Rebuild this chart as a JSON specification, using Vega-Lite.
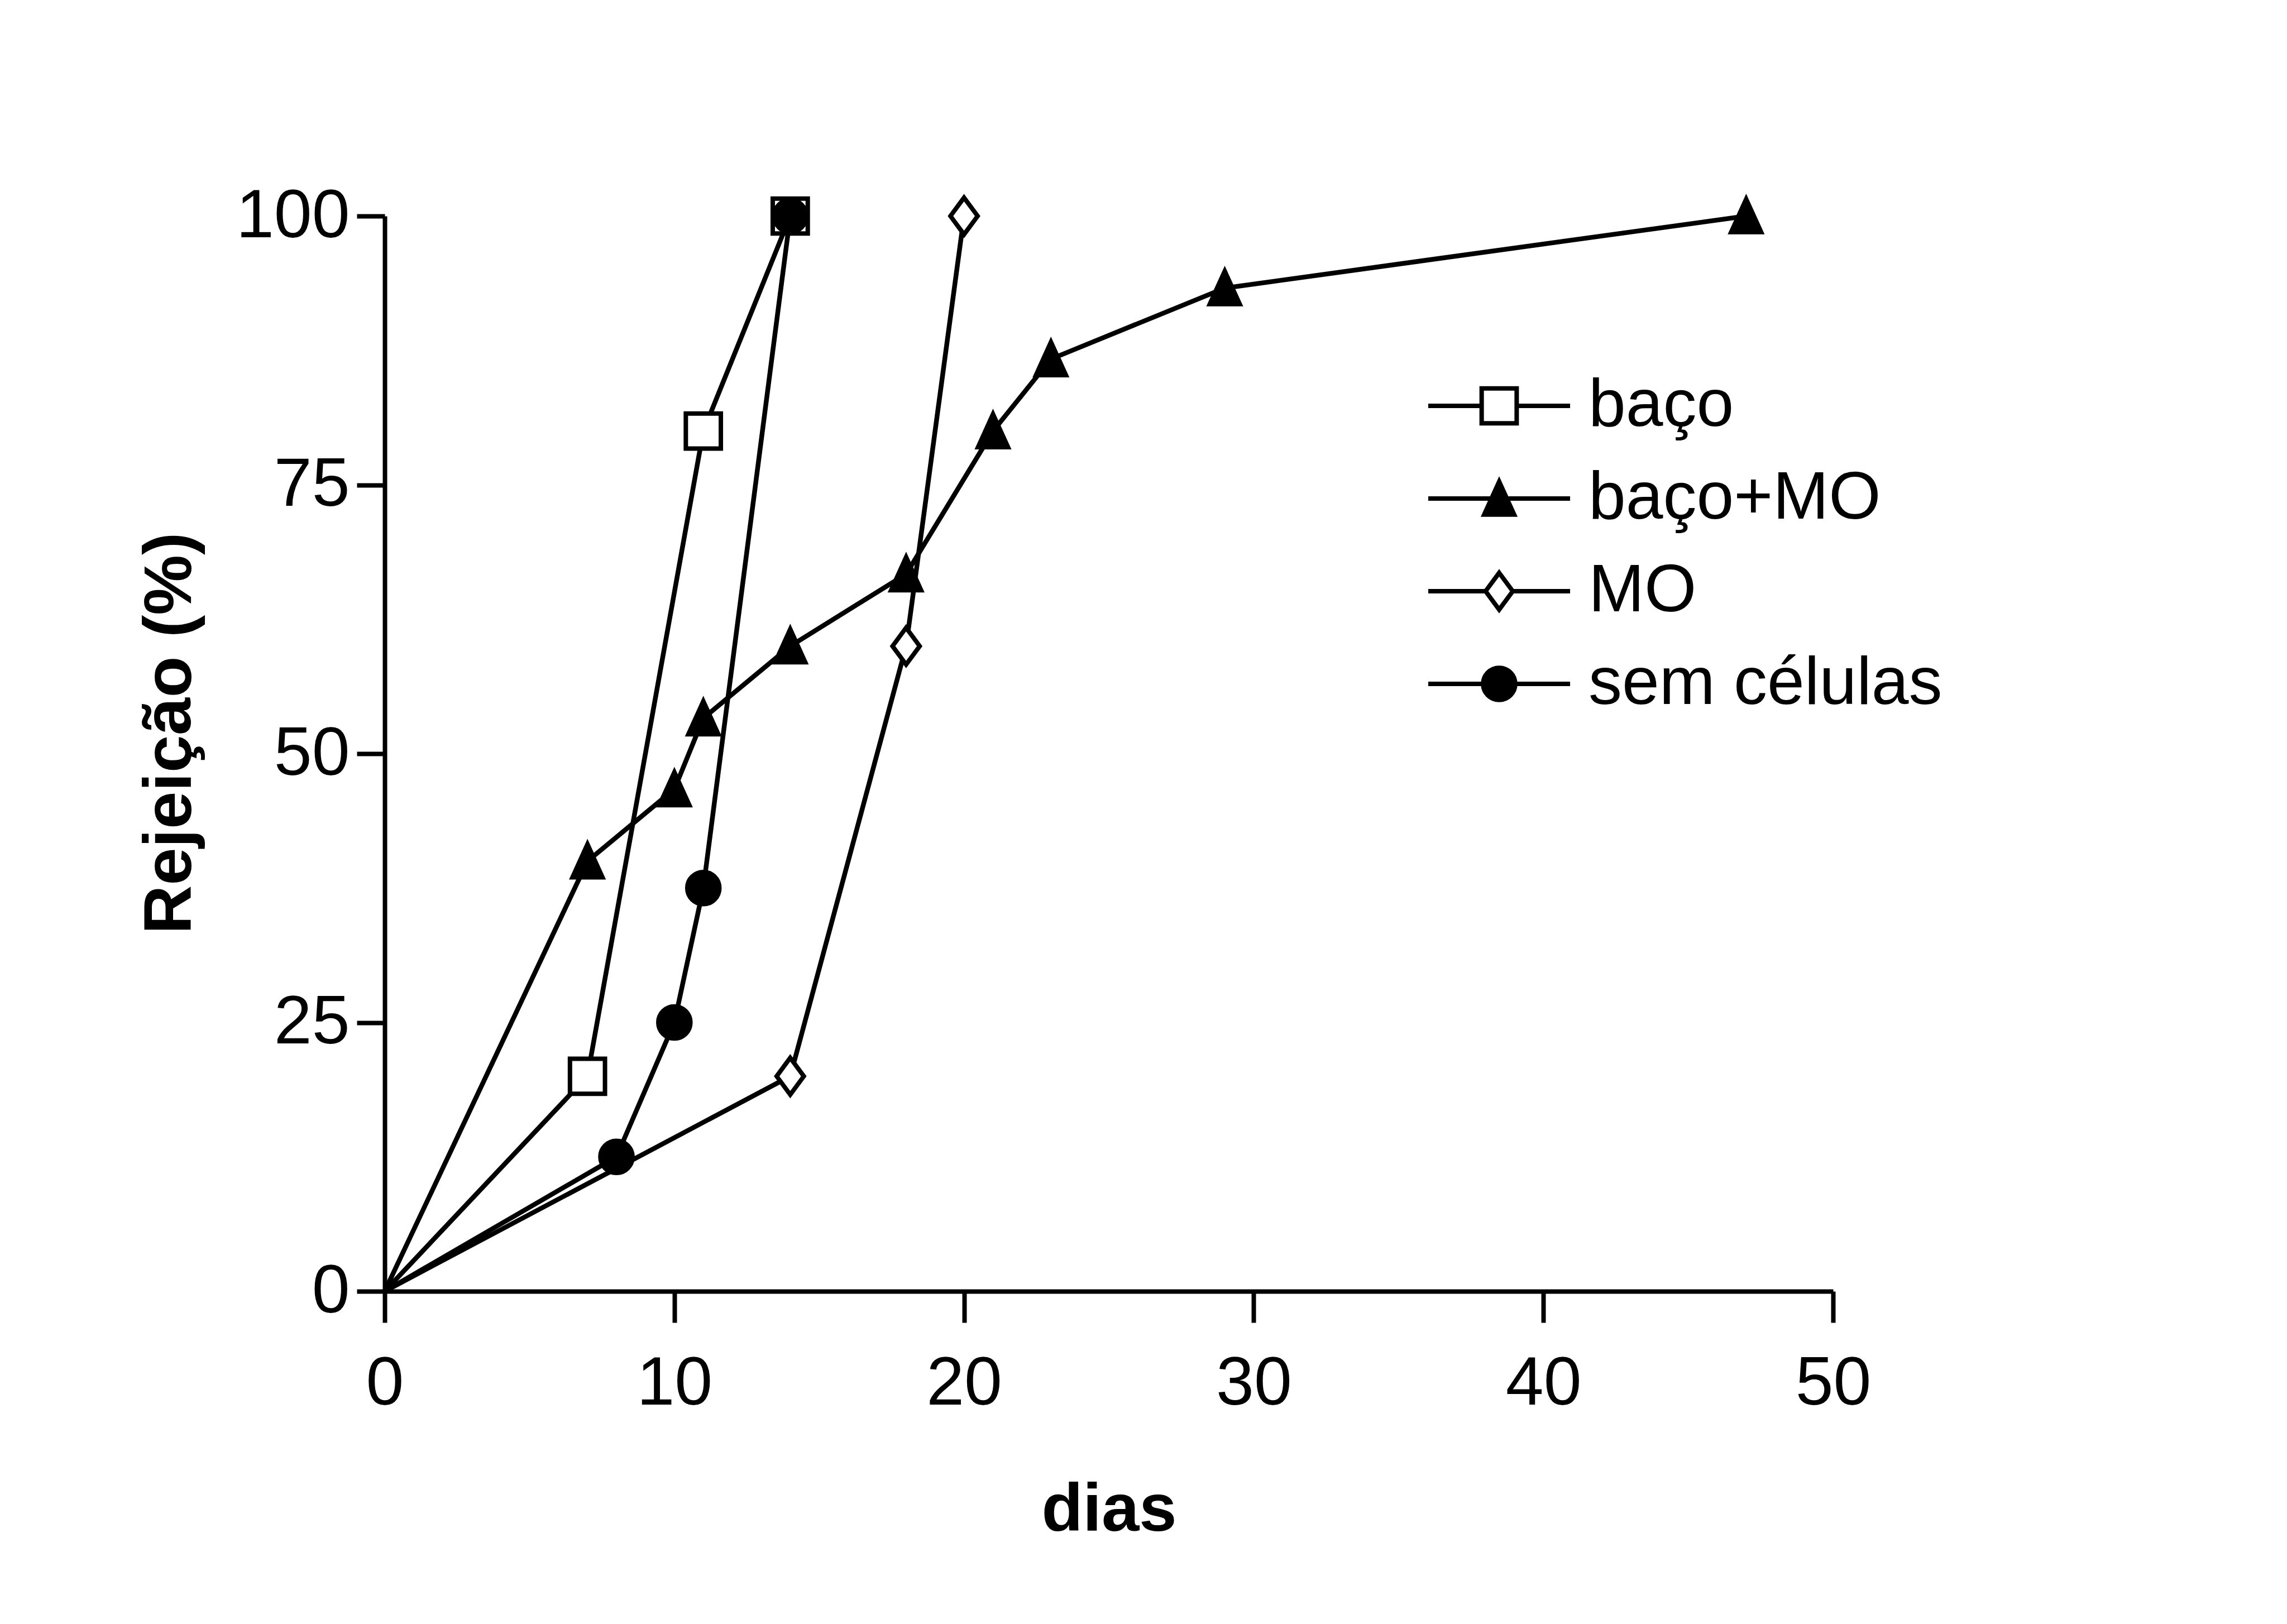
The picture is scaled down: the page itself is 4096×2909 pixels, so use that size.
{
  "$schema": "https://vega.github.io/schema/vega-lite/v6.json",
  "width": 2594,
  "height": 1926,
  "autosize": {"type": "none"},
  "padding": {"left": 689, "top": 387, "right": 813, "bottom": 596},
  "background": "white",
  "config": {"view": {"stroke": null}, "font": "Liberation Sans"},
  "data": {
    "values": [
      {"grupo": "baço", "dias": 0, "rej": 0},
      {"grupo": "baço", "dias": 7, "rej": 20},
      {"grupo": "baço", "dias": 11, "rej": 80},
      {"grupo": "baço", "dias": 14, "rej": 100},
      {"grupo": "baço+MO", "dias": 0, "rej": 0},
      {"grupo": "baço+MO", "dias": 7, "rej": 40},
      {"grupo": "baço+MO", "dias": 10, "rej": 46.7},
      {"grupo": "baço+MO", "dias": 11, "rej": 53.3},
      {"grupo": "baço+MO", "dias": 14, "rej": 60},
      {"grupo": "baço+MO", "dias": 18, "rej": 66.7},
      {"grupo": "baço+MO", "dias": 21, "rej": 80},
      {"grupo": "baço+MO", "dias": 23, "rej": 86.7},
      {"grupo": "baço+MO", "dias": 29, "rej": 93.3},
      {"grupo": "baço+MO", "dias": 47, "rej": 100},
      {"grupo": "MO", "dias": 0, "rej": 0},
      {"grupo": "MO", "dias": 14, "rej": 20},
      {"grupo": "MO", "dias": 18, "rej": 60},
      {"grupo": "MO", "dias": 20, "rej": 100},
      {"grupo": "sem células", "dias": 0, "rej": 0},
      {"grupo": "sem células", "dias": 8, "rej": 12.5},
      {"grupo": "sem células", "dias": 10, "rej": 25},
      {"grupo": "sem células", "dias": 11, "rej": 37.5},
      {"grupo": "sem células", "dias": 14, "rej": 100}
    ]
  },
  "encoding": {
    "x": {
      "field": "dias",
      "type": "quantitative",
      "scale": {"domain": [0, 50], "nice": false},
      "axis": {
        "title": "dias",
        "values": [0, 10, 20, 30, 40, 50],
        "grid": false,
        "domainColor": "black",
        "domainWidth": 8,
        "tickColor": "black",
        "tickWidth": 8,
        "tickSize": 56,
        "labelFont": "Liberation Sans",
        "labelFontSize": 122,
        "labelColor": "black",
        "labelPadding": 50,
        "labelFlush": false,
        "labelOverlap": false,
        "labelLimit": 1000,
        "titleFont": "Liberation Sans",
        "titleFontSize": 121,
        "titleFontWeight": "bold",
        "titleColor": "black",
        "titlePadding": 132
      }
    },
    "y": {
      "field": "rej",
      "type": "quantitative",
      "scale": {"domain": [0, 100], "nice": false},
      "axis": {
        "title": "Rejeição (%)",
        "values": [0, 25, 50, 75, 100],
        "grid": false,
        "domainColor": "black",
        "domainWidth": 8,
        "tickColor": "black",
        "tickWidth": 8,
        "tickSize": 50,
        "labelFont": "Liberation Sans",
        "labelFontSize": 122,
        "labelColor": "black",
        "labelPadding": 13,
        "labelFlush": false,
        "labelOverlap": false,
        "labelLimit": 1000,
        "titleFont": "Liberation Sans",
        "titleFontSize": 121,
        "titleFontWeight": "bold",
        "titleColor": "black",
        "titlePadding": 123,
        "titleY": 926
      }
    }
  },
  "resolve": {"scale": {"shape": "independent", "fill": "independent"}},
  "layer": [
    {
      "mark": {"type": "line", "color": "black", "strokeWidth": 8.5},
      "encoding": {"detail": {"field": "grupo"}, "order": {"field": "dias"}}
    },
    {
      "transform": [{"filter": "datum.dias > 0"}],
      "mark": {"type": "point", "filled": true, "stroke": "black", "strokeWidth": 8, "opacity": 1, "size": 4096},
      "encoding": {
        "shape": {
          "field": "grupo",
          "type": "nominal",
          "scale": {
            "domain": ["baço", "baço+MO", "MO", "sem células"],
            "range": [
              "M-0.98,-0.98H0.98V0.98H-0.98Z",
              "M0,-0.95L0.84,0.9L-0.84,0.9Z",
              "M0,-1.03L0.76,0L0,1.03L-0.76,0Z",
              "M-0.9,0C-0.9,-0.497,-0.497,-0.9,0,-0.9C0.497,-0.9,0.9,-0.497,0.9,0C0.9,0.497,0.497,0.9,0,0.9C-0.497,0.9,-0.9,0.497,-0.9,0Z"
            ]
          },
          "legend": null
        },
        "fill": {
          "field": "grupo",
          "type": "nominal",
          "scale": {
            "domain": ["baço", "baço+MO", "MO", "sem células"],
            "range": ["white", "black", "white", "black"]
          },
          "legend": null
        }
      }
    },
    {
      "transform": [{"filter": "false"}],
      "mark": {"type": "point", "filled": true, "stroke": "black", "strokeWidth": 8, "opacity": 1, "size": 4096},
      "encoding": {
        "shape": {
          "field": "grupo",
          "type": "nominal",
          "scale": {
            "domain": ["baço", "baço+MO", "MO", "sem células"],
            "range": [
              "M-3.97,0H-0.98M-0.98,-0.98H0.98V0.98H-0.98ZM0.98,0H3.97",
              "M-3.97,0H3.97M0,-0.95L0.84,0.9L-0.84,0.9Z",
              "M-3.97,0H-0.76M0,-1.03L0.76,0L0,1.03L-0.76,0ZM0.76,0H3.97",
              "M-3.97,0H3.97M-0.9,0C-0.9,-0.497,-0.497,-0.9,0,-0.9C0.497,-0.9,0.9,-0.497,0.9,0C0.9,0.497,0.497,0.9,0,0.9C-0.497,0.9,-0.9,0.497,-0.9,0Z"
            ]
          },
          "legend": {
            "title": null,
            "orient": "none",
            "legendX": 1936,
            "legendY": 280,
            "padding": 0,
            "symbolSize": 4096,
            "symbolStrokeWidth": 8,
            "labelOffset": 100,
            "labelFont": "Liberation Sans",
            "labelFontSize": 120,
            "labelColor": "black",
            "labelLimit": 1000,
            "rowPadding": 46,
            "encode": {
              "symbols": {
                "stroke": {"value": {"expr": "'black'"}},
                "strokeWidth": {"value": {"expr": "8"}},
                "strokeOpacity": {"value": {"expr": "1"}}
              }
            }
          }
        },
        "fill": {
          "field": "grupo",
          "type": "nominal",
          "scale": {
            "domain": ["baço", "baço+MO", "MO", "sem células"],
            "range": ["white", "black", "white", "black"]
          },
          "legend": {
            "title": null,
            "orient": "none",
            "legendX": 1936,
            "legendY": 280,
            "padding": 0,
            "symbolSize": 4096,
            "symbolStrokeWidth": 8,
            "labelOffset": 100,
            "labelFont": "Liberation Sans",
            "labelFontSize": 120,
            "labelColor": "black",
            "labelLimit": 1000,
            "rowPadding": 46,
            "encode": {
              "symbols": {
                "stroke": {"value": {"expr": "'black'"}},
                "strokeWidth": {"value": {"expr": "8"}},
                "strokeOpacity": {"value": {"expr": "1"}}
              }
            }
          }
        }
      }
    }
  ]
}
